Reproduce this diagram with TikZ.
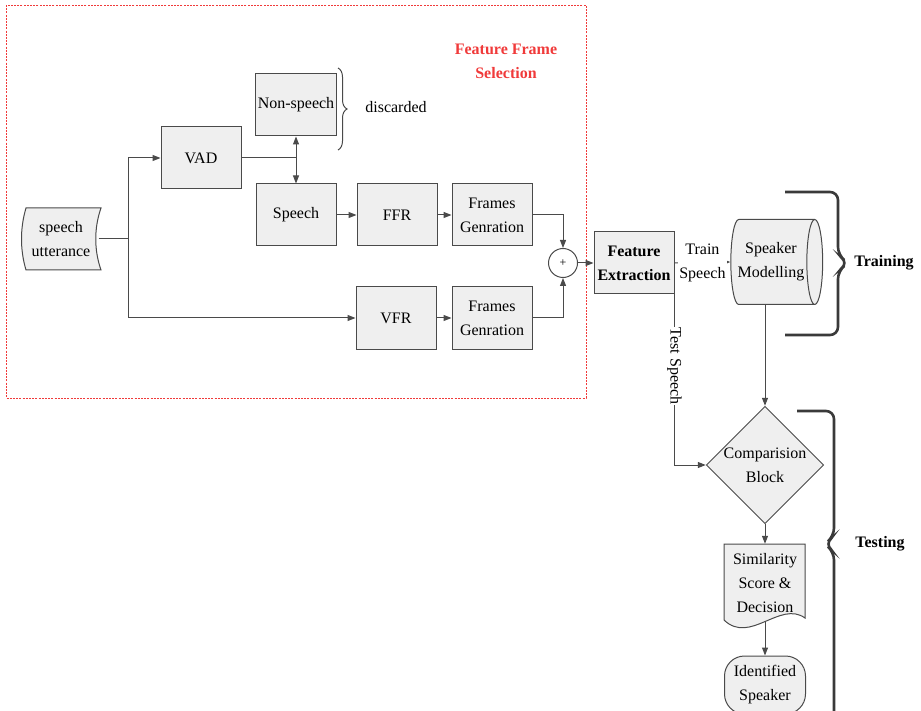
\documentclass[tikz,border=0pt]{standalone}
\usepackage{fontspec}
\setmainfont{Liberation Serif}
\usepackage{tikz}
\usetikzlibrary{arrows.meta,positioning,shapes.geometric,decorations.pathreplacing}
\definecolor{ink}{HTML}{4A4A4A}
\definecolor{boxbg}{HTML}{EFEFEF}
\definecolor{frame}{HTML}{F03A3A}
\definecolor{brc}{HTML}{3A3A3A}
\tikzset{
  base/.style={draw=ink, line width=1pt},
  arr/.style={base, -{Triangle[length=8pt,width=6pt]}},
  blk/.style={base, fill=boxbg, minimum width=80pt, minimum height=62pt, align=center, inner sep=2pt, font=\fontsize{16}{24}\selectfont},
  lab/.style={align=center, font=\fontsize{16}{24}\selectfont},
  labb/.style={align=center, font=\bfseries\fontsize{16}{24}\selectfont},
}

\begin{document}
\begin{tikzpicture}[x=1pt,y=-1pt]
\useasboundingbox (0,0) rectangle (921,711);

% frame selection region
\draw[draw=frame, line width=0.7pt, dash pattern=on 2pt off 1.2pt] (6,5) rectangle (586,398);
\node[labb, text=frame] (ffsel) at (506,61) {Feature Frame\\Selection};

% input
\draw[base, fill=boxbg] (26,208) -- (101,208) .. controls (94,228) and (94,250) .. (101,270)
  -- (26,270) .. controls (20,250) and (20,228) .. (26,208) -- cycle;
\node[lab, minimum width=75pt] (utter) at (61,239) {speech\\utterance};

\node[blk] (vad) at (201,158) {VAD};
\node[blk] (nonsp) at (296,105) {Non-speech};
\node[blk] (speech) at (296,215) {Speech};
\node[blk] (ffr) at (397,215) {FFR};
\node[blk] (fgen1) at (492,215) {Frames\\Genration};
\node[blk] (vfr) at (396,318) {VFR};
\node[blk] (fgen2) at (492,318) {Frames\\Genration};
\node[base, circle, fill=white, minimum size=29pt, inner sep=0pt, font=\fontsize{12}{14}\selectfont] (plus) at (563,263) {+};

\draw[base, decorate, decoration={brace, amplitude=9pt}] (338,68) -- (338,150);
\node[lab] (disc) at (396,107) {discarded};

\coordinate (split) at (128,239);
\coordinate (vj) at (296,158);
\draw[base] (utter.east) -- (split);
\draw[arr] (split) |- (vad.west);
\draw[arr] (split) |- (vfr.west);
\draw[base] (vad.east) -- (vj);
\draw[arr] (vj) -- (nonsp.south);
\draw[arr] (vj) -- (speech.north);
\draw[arr] (speech) -- (ffr);
\draw[arr] (ffr) -- (fgen1);
\draw[arr] (vfr) -- (fgen2);
\draw[arr] (fgen1.east) -| (plus.north);
\draw[arr] (fgen2.east) -| (plus.south);

% back end
\node[blk, font=\bfseries\fontsize{16}{24}\selectfont] (fext) at (634,263) {Feature\\Extraction};
\node[base, cylinder, fill=boxbg, aspect=0.35, minimum width=85pt, minimum height=91pt, inner xsep=2pt, align=center, font=\fontsize{16}{24}\selectfont] (spkmod) at (771,262) {Speaker\\Modelling};
\node[base, diamond, fill=boxbg, minimum width=113pt, minimum height=110pt, inner sep=0pt, align=center, font=\fontsize{16}{24}\selectfont] (comp) at (765,465) {Comparision\\Block};

\draw[base, fill=boxbg] (724,544) -- (805,544) -- (805,618) .. controls (780,600) and (750,645) .. (724,620) -- cycle;
\node[lab, minimum width=81pt, minimum height=78pt] (simdec) at (765,583) {Similarity\\Score \&\\Decision};
\node[base, fill=boxbg, rounded corners=20pt, minimum width=81pt, minimum height=58pt, align=center, font=\fontsize{16}{24}\selectfont] (ident) at (765,685) {Identified\\Speaker};

\draw[arr] (plus.east) -- (fext.west);
\draw[arr] (fext.east) -- node[lab, fill=white, inner sep=1pt] {Train\\Speech} (spkmod.west);
\draw[arr] (fext.south east) -- node[lab, fill=white, inner sep=1pt, rotate=-90, pos=0.42] {Test Speech} (fext.south east |- comp.west) -- (comp.west);
\draw[arr] (comp.north |- spkmod.south) -- (comp.north);
\draw[arr] (comp.south) -- (simdec.north);
\draw[arr] (simdec.south) -- (ident.north);

% phases
\draw[draw=brc, line width=2.6pt, rounded corners=8pt] (785,192) -- (838,192) -- (838,255) -- (848,263) -- (838,271) -- (838,335) -- (785,335);
\node[labb] (train) at (884,263) {Training};
\draw[draw=brc, line width=2.6pt, rounded corners=8pt] (797,411) -- (834,411) -- (834,536) -- (825,544) -- (834,552) -- (834,730);
\node[labb] (test) at (880,544) {Testing};
\end{tikzpicture}
\end{document}
